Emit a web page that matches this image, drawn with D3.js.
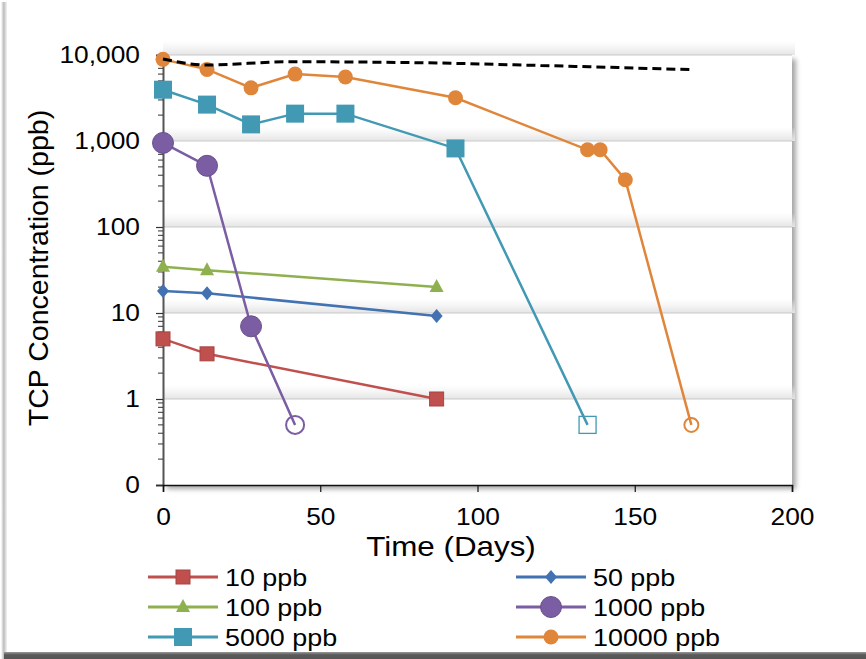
<!DOCTYPE html>
<html>
<head>
<meta charset="utf-8">
<script src="https://cdn.jsdelivr.net/npm/d3@7"></script>
<style>
  html, body { margin: 0; padding: 0; background: #fff; }
  svg { display: block; font-family: "Liberation Sans", Arial, sans-serif; }
</style>
</head>
<body>
<svg id="chart" width="866" height="659"></svg>
<script>
// ---------------- data ----------------
const yTickValues = [0.1, 1, 10, 100, 1000, 10000];
const yTickLabels = ["0", "1", "10", "100", "1,000", "10,000"];
const xTickValues = [0, 50, 100, 150, 200];

const days10 = [0, 14, 87];
const vals10 = [5, 3.35, 1];
const days50 = [0, 14, 87];
const vals50 = [18, 17, 9.2];
const days100 = [0, 14, 87];
const vals100 = [34.5, 31.5, 20];
const days1000 = [0, 14, 28, 42];
const vals1000 = [950, 515, 7, 0.5];
const days5000 = [0, 14, 28, 42, 58, 93, 135];
const vals5000 = [3950, 2650, 1560, 2080, 2080, 820, 0.5];
const days10000 = [0, 14, 28, 42, 58, 93, 135, 139, 147, 168];
const vals10000 = [8900, 6800, 4150, 6000, 5550, 3180, 790, 790, 355, 0.5];
// last point of these series is a non-detect (open marker)
const nonDetectSeries = ["1000 ppb", "5000 ppb", "10000 ppb"];

const daysDashed = [0, 14, 40, 80, 120, 168];
const valsDashed = [9000, 7650, 8350, 8150, 7550, 6750];

const seriesNames = ["10 ppb", "50 ppb", "100 ppb", "1000 ppb", "5000 ppb", "10000 ppb"];
const seriesDays = [days10, days50, days100, days1000, days5000, days10000];
const seriesVals = [vals10, vals50, vals100, vals1000, vals5000, vals10000];
const seriesColors = ["#c0504d", "#4272b2", "#8fb04f", "#7a5da2", "#4299b4", "#e0863a"];
const seriesMarkers = ["square", "diamond", "triangle", "circleL", "squareL", "circle"];

// ---------------- layout ----------------
const svg = d3.select("#chart");
const plot = { left: 163, right: 792, top: 55, bottom: 485 };
const STRETCH = 1.12; // reference text is slightly wide

function stretch(sel) {
  sel.each(function () {
    const w = this.getComputedTextLength();
    d3.select(this).attr("textLength", w * STRETCH).attr("lengthAdjust", "spacingAndGlyphs");
  });
}

const x = d3.scaleLinear().domain([0, 200]).range([plot.left, plot.right]);
const y = d3.scaleLog().domain([0.1, 10000]).range([plot.bottom, plot.top]);

const defs = svg.append("defs");
const sh = defs.append("filter").attr("id", "plotShadow").attr("x", "-5%").attr("y", "-5%").attr("width", "115%").attr("height", "115%");
sh.append("feDropShadow").attr("dx", 4).attr("dy", 4).attr("stdDeviation", 2.5).attr("flood-color", "#000").attr("flood-opacity", 0.35);

const gridGrad = defs.append("linearGradient").attr("id", "gridGrad").attr("x1", 0).attr("y1", 0).attr("x2", 0).attr("y2", 1);
gridGrad.append("stop").attr("offset", "0%").attr("stop-color", "#ededed").attr("stop-opacity", 0);
gridGrad.append("stop").attr("offset", "100%").attr("stop-color", "#e4e4e4").attr("stop-opacity", 1);

const leftGrad = defs.append("linearGradient").attr("id", "leftGrad").attr("x1", 0).attr("y1", 0).attr("x2", 1).attr("y2", 0);
leftGrad.append("stop").attr("offset", "0%").attr("stop-color", "#ffffff");
leftGrad.append("stop").attr("offset", "45%").attr("stop-color", "#bdbdbd");
leftGrad.append("stop").attr("offset", "100%").attr("stop-color", "#f4f4f4");

const botGrad = defs.append("linearGradient").attr("id", "botGrad").attr("x1", 0).attr("y1", 0).attr("x2", 0).attr("y2", 1);
botGrad.append("stop").attr("offset", "0%").attr("stop-color", "#9a9a9a");
botGrad.append("stop").attr("offset", "40%").attr("stop-color", "#5a5a5a");
botGrad.append("stop").attr("offset", "100%").attr("stop-color", "#555");

// outer frame
svg.append("rect").attr("x", 0).attr("y", 0).attr("width", 866).attr("height", 659).attr("fill", "#fff");
svg.append("rect").attr("x", 1).attr("y", 2).attr("width", 6).attr("height", 657).attr("fill", "url(#leftGrad)");
svg.append("rect").attr("x", 4).attr("y", 652).attr("width", 862).attr("height", 7).attr("fill", "url(#botGrad)");

// plot background with shadow
svg.append("rect")
  .attr("x", plot.left).attr("y", plot.top)
  .attr("width", plot.right - plot.left).attr("height", plot.bottom - plot.top)
  .attr("fill", "#fff").attr("filter", "url(#plotShadow)");

// gridline shading bands + gridlines
const gridG = svg.append("g");
yTickValues.filter(v => v > 0.1).forEach(v => {
  gridG.append("rect")
    .attr("x", plot.left).attr("y", y(v) - 14)
    .attr("width", plot.right - plot.left + 3).attr("height", 14)
    .attr("fill", "url(#gridGrad)");
  gridG.append("line")
    .attr("x1", plot.left).attr("x2", plot.right)
    .attr("y1", y(v)).attr("y2", y(v))
    .attr("stroke", "#c9c9c9").attr("stroke-width", 1.2);
});

// y axis
const yAxis = d3.axisLeft(y)
  .tickValues(yTickValues)
  .tickFormat((d, i) => yTickLabels[i])
  .tickSize(7).tickPadding(16);
const yg = svg.append("g").attr("transform", `translate(${plot.left},0)`).call(yAxis);
yg.select(".domain").attr("stroke", "#555").attr("stroke-width", 2);
yg.selectAll(".tick line").attr("stroke", "#333").attr("stroke-width", 1.2);
yg.selectAll(".tick text").attr("font-size", 23.5).attr("fill", "#000")
  .attr("font-family", "Liberation Sans, Arial, sans-serif").call(stretch);

// minor ticks
const minorVals = [];
[0.1, 1, 10, 100, 1000].forEach(dec => { for (let k = 2; k <= 9; k++) minorVals.push(dec * k); });
svg.append("g").selectAll("line").data(minorVals).join("line")
  .attr("x1", plot.left - 5).attr("x2", plot.left)
  .attr("y1", d => y(d)).attr("y2", d => y(d))
  .attr("stroke", "#333").attr("stroke-width", 1);

// x axis
const xAxis = d3.axisBottom(x).tickValues(xTickValues).tickSize(7).tickPadding(16);
const xg = svg.append("g").attr("transform", `translate(0,${plot.bottom})`).call(xAxis);
xg.select(".domain").attr("stroke", "#111").attr("stroke-width", 1.6);
xg.selectAll(".tick line").attr("stroke", "#111").attr("stroke-width", 1.2);
xg.selectAll(".tick text").attr("font-size", 23.5).attr("fill", "#000")
  .attr("font-family", "Liberation Sans, Arial, sans-serif").call(stretch);

// axis titles
svg.append("text")
  .attr("transform", `translate(48,268) rotate(-90)`)
  .attr("text-anchor", "middle")
  .attr("font-size", 28.5).attr("fill", "#000")
  .text("TCP Concentration (ppb)");
svg.append("text")
  .attr("x", 451).attr("y", 556)
  .attr("text-anchor", "middle")
  .attr("font-size", 28).attr("fill", "#000")
  .text("Time (Days)").call(stretch);

// marker drawing
function drawMarker(g, type, cx, cy, color, open) {
  const fill = open ? "none" : color;
  const stroke = color;
  if (type === "square") {
    g.append("rect").attr("x", cx - 7).attr("y", cy - 7).attr("width", 14).attr("height", 14)
      .attr("fill", fill).attr("stroke", d3.color(color).darker(0.4)).attr("stroke-width", 1);
  } else if (type === "squareL") {
    const s = open ? 17 : 18;
    g.append("rect").attr("x", cx - s / 2).attr("y", cy - s / 2).attr("width", s).attr("height", s)
      .attr("fill", fill).attr("stroke", stroke).attr("stroke-width", open ? 1.3 : 0);
  } else if (type === "diamond") {
    g.append("path").attr("d", `M${cx},${cy - 7}L${cx + 6},${cy}L${cx},${cy + 7}L${cx - 6},${cy}Z`)
      .attr("fill", fill);
  } else if (type === "triangle") {
    g.append("path").attr("d", `M${cx},${cy - 8}L${cx + 7},${cy + 5}L${cx - 7},${cy + 5}Z`)
      .attr("fill", fill);
  } else if (type === "circleL") {
    g.append("circle").attr("cx", cx).attr("cy", cy).attr("r", open ? 9 : 10.5)
      .attr("fill", fill).attr("stroke", open ? stroke : d3.color(color).darker(0.4)).attr("stroke-width", open ? 2 : 1);
  } else if (type === "circle") {
    g.append("circle").attr("cx", cx).attr("cy", cy).attr("r", open ? 7 : 7.5)
      .attr("fill", fill).attr("stroke", stroke).attr("stroke-width", open ? 2 : 0);
  }
}

// series
const line = d3.line().x(d => x(d[0])).y(d => y(d[1]));
const seriesG = svg.append("g");
seriesNames.forEach((name, i) => {
  const pts = seriesDays[i].map((d, j) => [d, seriesVals[i][j]]);
  seriesG.append("path").datum(pts).attr("d", line)
    .attr("fill", "none").attr("stroke", seriesColors[i]).attr("stroke-width", 2.5);
});
const dashedPts = daysDashed.map((d, j) => [d, valsDashed[j]]);
const smooth = d3.line().x(d => x(d[0])).y(d => y(d[1])).curve(d3.curveMonotoneX);
seriesNames.forEach((name, i) => {
  const g = seriesG.append("g");
  const n = seriesDays[i].length;
  seriesDays[i].forEach((d, j) => {
    const open = nonDetectSeries.includes(name) && j === n - 1;
    drawMarker(g, seriesMarkers[i], x(d), y(seriesVals[i][j]), seriesColors[i], open);
  });
});
seriesG.append("path").datum(dashedPts).attr("d", smooth)
  .attr("fill", "none").attr("stroke", "#000").attr("stroke-width", 3)
  .attr("stroke-dasharray", "9,5");

// legend
const legendCols = [148, 516];
const legendRows = [577, 607, 637];
seriesNames.forEach((name, i) => {
  const cx = legendCols[i % 2];
  const cy = legendRows[Math.floor(i / 2)];
  const g = svg.append("g");
  g.append("line").attr("x1", cx).attr("x2", cx + 70).attr("y1", cy).attr("y2", cy)
    .attr("stroke", seriesColors[i]).attr("stroke-width", 3);
  drawMarker(g, seriesMarkers[i], cx + 35, cy, seriesColors[i], false);
  g.append("text").attr("x", cx + 77).attr("y", cy + 9)
    .attr("font-size", 24).attr("fill", "#000").text(name).call(stretch);
});
</script>
</body>
</html>
